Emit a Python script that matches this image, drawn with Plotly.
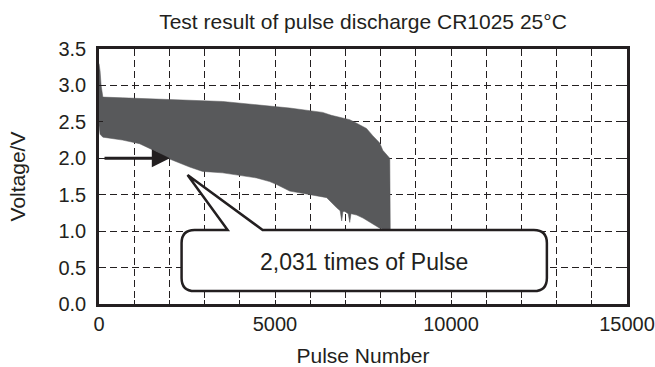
import plotly.graph_objects as go

# Pulse discharge envelope: upper (rest) and lower (loaded) voltage vs pulse count
pulse_upper = [0, 30, 60, 110, 668, 2005, 3512, 5417, 6355, 6600, 7123, 7322,
               7600, 7777, 7976, 8062, 8200, 8261, 8275]
volt_upper = [3.30, 3.20, 3.00, 2.84, 2.83, 2.81, 2.78, 2.69, 2.63, 2.59, 2.53, 2.48,
              2.41, 2.31, 2.21, 2.11, 2.04, 2.00, 1.00]

pulse_lower = [0, 30, 110, 668, 1152, 1635, 2005, 2573, 2943, 3512, 4479, 4848,
               5047, 5417, 5787, 5986, 6355, 6469, 6753, 6850, 6895, 6930, 6981,
               7080, 7123, 7160, 7322, 7500, 7692, 7976, 8204, 8261]
volt_lower = [2.45, 2.33, 2.29, 2.25, 2.20, 2.09, 1.99, 1.88, 1.82, 1.80, 1.73, 1.68,
              1.64, 1.55, 1.51, 1.50, 1.47, 1.46, 1.32, 1.28, 1.14, 1.27, 1.27,
              1.24, 1.12, 1.24, 1.22, 1.18, 1.13, 1.04, 1.01, 1.00]

marked_pulse = 2031
marked_volt = 2.0

x_ticks = [0, 5000, 10000, 15000]
y_ticks = [0.0, 0.5, 1.0, 1.5, 2.0, 2.5, 3.0, 3.5]

INK = "#231f20"
FILL = "#58595b"
FONT = "Liberation Sans, Arial, sans-serif"

fig = go.Figure()

# Filled band between the envelopes
fig.add_trace(go.Scatter(
    x=pulse_upper + pulse_lower[::-1],
    y=volt_upper + volt_lower[::-1],
    fill="toself", fillcolor=FILL,
    line=dict(color=FILL, width=0.5),
    mode="lines", hoverinfo="skip", showlegend=False,
))

# Speech-bubble callout (data coordinates)
bx0, bx1, by0, by1 = 2346, 12724, 0.178, 1.016
rx, ry = 370, 0.18
tip_x, tip_y = 2516, 1.77
base_l, base_r = 3654, 4649
bubble = (
    f"M {base_l},{by1} L {tip_x},{tip_y} L {base_r},{by1} "
    f"L {bx1 - rx},{by1} Q {bx1},{by1} {bx1},{by1 - ry} "
    f"L {bx1},{by0 + ry} Q {bx1},{by0} {bx1 - rx},{by0} "
    f"L {bx0 + rx},{by0} Q {bx0},{by0} {bx0},{by0 + ry} "
    f"L {bx0},{by1 - ry} Q {bx0},{by1} {bx0 + rx},{by1} Z"
)
fig.add_shape(type="path", path=bubble, xref="x", yref="y",
              fillcolor="white", line=dict(color=INK, width=2.5), layer="above")

fig.add_annotation(x=7530, y=0.58, xref="x", yref="y",
                   text=f"{marked_pulse:,} times of Pulse", showarrow=False,
                   font=dict(family=FONT, size=23, color=INK))

# Arrow marking the pulse count at 2.0 V
fig.add_annotation(x=marked_pulse - 20, y=marked_volt, xref="x", yref="y",
                   ax=114, ay=marked_volt, axref="x", ayref="y",
                   text="", showarrow=True, arrowhead=2, arrowsize=1.2,
                   arrowwidth=3, arrowcolor=INK)

grid_common = dict(
    showline=True, linecolor=INK, linewidth=2.5, mirror="ticks",
    showgrid=True, gridcolor=INK, gridwidth=1.2, griddash="7px,4px",
    ticks="inside", ticklen=4, tickcolor=INK, tickwidth=1.2,
    zeroline=False, automargin=False,
    tickfont=dict(family=FONT, size=20, color=INK),
)

fig.update_xaxes(
    range=[0, 15000], tickvals=x_ticks, ticktext=[str(v) for v in x_ticks],
    title=dict(text="Pulse Number", font=dict(family=FONT, size=21, color=INK),
               standoff=16),
    minor=dict(dtick=1000, tick0=0, showgrid=True, gridcolor=INK, gridwidth=1.2,
               griddash="7px,4px", ticks="inside", ticklen=4, tickcolor=INK),
    **grid_common,
)
fig.update_yaxes(
    range=[0, 3.5], tickvals=y_ticks, ticktext=[f"{v:.1f}" for v in y_ticks],
    title=dict(text="Voltage/V", font=dict(family=FONT, size=21, color=INK),
               standoff=28),
    ticklabelstandoff=6,
    **grid_common,
)

fig.update_layout(
    width=655, height=367,
    margin=dict(l=99, r=28, t=49, b=63),
    paper_bgcolor="white", plot_bgcolor="white",
    title=dict(text="Test result of pulse discharge CR1025 25°C",
               x=0.5, xref="paper", y=1 - 22 / 367, yref="container",
               yanchor="middle",
               font=dict(family=FONT, size=21, color=INK)),
)

fig.write_html("out.html")
